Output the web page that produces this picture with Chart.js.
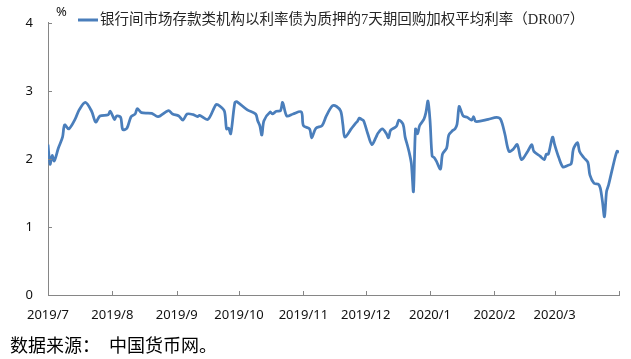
<!DOCTYPE html>
<html>
<head>
<meta charset="utf-8">
<script src="https://cdn.jsdelivr.net/npm/chart.js@4.4.1/dist/chart.umd.min.js"></script>
<style>
  html, body { margin: 0; padding: 0; background: #fff; }
  #wrap { width: 631px; height: 359px; }
</style>
</head>
<body>
<div id="wrap"><canvas id="Chart" width="631" height="359"></canvas></div>
<script>
// days counted from 2019-07-01
const days = [0, 1, 2, 3, 5, 7, 8, 10, 13, 15, 18, 21, 23, 25, 29, 30, 32, 33, 35, 36, 38, 40, 42, 43, 45,
  50, 53, 58, 60, 63, 65, 67, 70, 72, 73, 77, 81, 83, 85, 86, 87, 88, 90, 91, 96,
  100, 101, 102, 103, 104, 107, 108, 110, 112, 113, 115, 118, 122, 123, 126, 127, 129, 132, 134, 137, 139,
  141, 142, 143, 146, 148, 149, 150, 151, 152, 154, 156, 158, 159, 161, 163, 164, 165, 167, 168, 169,
  171, 172, 173, 174, 175, 176, 177, 178, 179, 181, 182, 183, 184, 185, 186, 187, 189, 190, 192, 193,
  195, 196, 197, 198, 199, 200, 202, 204, 205, 206, 212, 216, 218, 220, 222, 224, 226, 228, 231, 233, 234,
  237, 239, 240, 241, 243, 244, 246, 248, 250, 252, 253, 255, 256, 258, 260, 261, 263, 265, 266, 267,
  268, 269, 270, 272, 274, 275];
const rates = [2.21, 1.92, 2.05, 1.97, 2.16, 2.32, 2.50, 2.44, 2.58, 2.72, 2.83, 2.70, 2.54, 2.63, 2.65, 2.70, 2.58, 2.63, 2.61, 2.43, 2.45, 2.62, 2.66, 2.74, 2.68,
  2.67, 2.62, 2.71, 2.66, 2.63, 2.57, 2.66, 2.65, 2.62, 2.64, 2.58, 2.80, 2.77, 2.70, 2.44, 2.45, 2.37, 2.83, 2.84, 2.72,
  2.66, 2.56, 2.49, 2.35, 2.56, 2.69, 2.66, 2.70, 2.71, 2.83, 2.63, 2.66, 2.69, 2.49, 2.44, 2.31, 2.45, 2.49, 2.63, 2.78, 2.77,
  2.70, 2.51, 2.32, 2.44, 2.52, 2.55, 2.60, 2.58, 2.56, 2.37, 2.21, 2.32, 2.38, 2.44, 2.37, 2.31, 2.42, 2.46, 2.49, 2.57,
  2.51, 2.32, 2.21, 2.09, 1.93, 1.52, 2.44, 2.37, 2.49, 2.58, 2.68, 2.85, 2.56, 2.04, 2.02, 1.97, 1.85, 2.07, 2.16, 2.35,
  2.42, 2.44, 2.51, 2.77, 2.70, 2.63, 2.61, 2.57, 2.62, 2.55, 2.58, 2.61, 2.58, 2.37, 2.11, 2.14, 2.21, 1.99, 2.11, 2.21, 2.11,
  2.04, 1.99, 2.07, 2.07, 2.32, 2.21, 2.02, 1.88, 1.90, 1.93, 2.14, 2.24, 2.11, 2.02, 1.95, 1.76, 1.64, 1.63, 1.57, 1.38,
  1.15, 1.52, 1.62, 1.88, 2.11, 2.10];

const monthDays = [0, 31, 62, 92, 123, 153, 184, 215, 244, 275];
const monthLabels = ['2019/7', '2019/8', '2019/9', '2019/10', '2019/11', '2019/12', '2020/1', '2020/2', '2020/3', ''];
const yTicks = [0, 1, 2, 3, 4];

const seriesName = '银行间市场存款类机构以利率债为质押的7天期回购加权平均利率（DR007）';
const unitText = '%';
const sourceText = '数据来源：　中国货币网。';

const lineColor = '#4A7EBB';
const axisColor = '#868686';

// inward tick marks, unit, legend and source note
const extras = {
  id: 'extras',
  afterDraw(chart) {
    const ctx = chart.ctx;
    const xs = chart.scales.x;
    const ys = chart.scales.y;
    ctx.save();
    ctx.strokeStyle = axisColor;
    ctx.lineWidth = 1;
    monthDays.forEach(d => {
      const px = Math.round(xs.getPixelForValue(d)) + 0.5;
      ctx.beginPath();
      ctx.moveTo(px, ys.bottom);
      ctx.lineTo(px, ys.bottom - 4);
      ctx.stroke();
    });
    yTicks.forEach(v => {
      const py = Math.round(ys.getPixelForValue(v)) + 0.5;
      ctx.beginPath();
      ctx.moveTo(xs.left, py);
      ctx.lineTo(xs.left + 4, py);
      ctx.stroke();
    });

    ctx.fillStyle = '#111';
    ctx.textBaseline = 'middle';
    ctx.font = '13px "Noto Sans"';
    ctx.fillText(unitText, 56, 12);

    // legend
    ctx.strokeStyle = lineColor;
    ctx.lineWidth = 3;
    ctx.beginPath();
    ctx.moveTo(78, 20);
    ctx.lineTo(98, 20);
    ctx.stroke();
    ctx.fillStyle = '#262626';
    ctx.font = '14.5px "Liberation Serif", "Noto Sans CJK SC"';
    ctx.fillText(seriesName, 100, 20);

    ctx.fillStyle = '#000';
    ctx.font = '18px "Noto Sans CJK SC"';
    ctx.fillText(sourceText, 10, 345);
    ctx.restore();
  }
};

new Chart(document.getElementById('Chart'), {
  type: 'line',
  data: {
    datasets: [{
      label: seriesName,
      data: days.map((d, i) => ({x: d, y: rates[i]})),
      borderColor: lineColor,
      borderWidth: 2.75,
      pointRadius: 0,
      tension: 0.3,
      fill: false
    }]
  },
  options: {
    responsive: false,
    animation: false,
    layout: { padding: { top: 11, right: 6, left: 0, bottom: 0 } },
    plugins: {
      legend: { display: false },
      tooltip: { enabled: false }
    },
    scales: {
      x: {
        type: 'linear',
        min: 0,
        max: 275,
        afterFit: s => { s.height = 64; },
        afterBuildTicks: s => { s.ticks = monthDays.map(v => ({value: v})); },
        grid: { display: false, drawTicks: false },
        border: { color: axisColor, width: 1 },
        ticks: {
          autoSkip: false,
          maxRotation: 0,
          padding: 12,
          color: '#111',
          font: { family: 'Noto Sans', size: 13 },
          callback: (v, i) => monthLabels[i]
        }
      },
      y: {
        min: 0,
        max: 4,
        afterFit: s => { s.width = 48; },
        afterBuildTicks: s => { s.ticks = yTicks.map(v => ({value: v})); },
        grid: { display: false, drawTicks: false },
        border: { color: axisColor, width: 1 },
        ticks: {
          padding: 15,
          color: '#111',
          font: { family: 'Noto Sans', size: 13 }
        }
      }
    }
  },
  plugins: [extras]
});
</script>
</body>
</html>
